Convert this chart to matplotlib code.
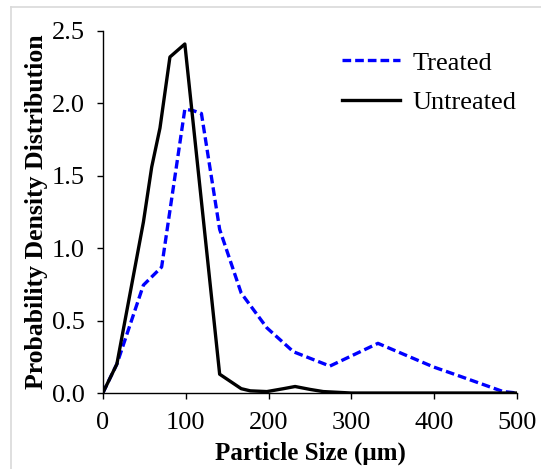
import matplotlib.pyplot as plt
from matplotlib.lines import Line2D

# particle size (um) and probability density values
treated_x = [0, 17, 49, 71, 99, 109, 119, 141, 167, 198, 230, 274, 332, 399, 427, 483, 500]
treated_y = [0, 0.2, 0.745, 0.87, 1.96, 1.95, 1.93, 1.13, 0.69, 0.45, 0.285, 0.186, 0.343, 0.18, 0.124, 0.01, 0]

untreated_x = [0, 17, 49, 59, 69, 81, 99, 141, 167, 178, 198, 218, 232, 250, 266, 300, 400, 500]
untreated_y = [0, 0.2, 1.18, 1.56, 1.83, 2.32, 2.41, 0.13, 0.03, 0.015, 0.01, 0.03, 0.045, 0.025, 0.01, 0, 0, 0]

x_ticks = [0, 100, 200, 300, 400, 500]
y_ticks = [0.0, 0.5, 1.0, 1.5, 2.0, 2.5]

plt.rcParams['font.family'] = ['Liberation Serif', 'DejaVu Serif']

fig = plt.figure(figsize=(5.41, 4.69), dpi=100)
ax = fig.add_axes([0.190, 0.162, 0.766, 0.772])

# light grey frame of the original picture
fig.add_artist(Line2D([11 / 541, 11 / 541], [0, 1 - 7 / 469], color='#d9d9d9', lw=1.2))
fig.add_artist(Line2D([11 / 541, 1], [1 - 7 / 469, 1 - 7 / 469], color='#d9d9d9', lw=1.2))

ax.plot(treated_x, treated_y, color='#0000ff', lw=2.4, ls=(0, (2.6, 1.2)), label='Treated')
ax.plot(untreated_x, untreated_y, color='black', lw=2.4, label='Untreated')

ax.set_xlim(0, 500)
ax.set_ylim(0, 2.5)
ax.set_xticks(x_ticks)
ax.set_yticks(y_ticks)
ax.set_yticklabels(['%.1f' % v for v in y_ticks])
ax.tick_params(direction='out', length=4, width=1, labelsize=19)
ax.tick_params(axis='x', pad=10)
ax.tick_params(axis='y', pad=9)

for side in ['top', 'right']:
    ax.spines[side].set_visible(False)
for side in ['left', 'bottom']:
    ax.spines[side].set_linewidth(1)

ax.set_xlabel('Particle Size (\u00b5m)', fontsize=18, fontweight='bold', labelpad=5)
ax.set_ylabel('Probability Density Distribution', fontsize=18.5, fontweight='bold', labelpad=3)

ax.legend(loc='upper right', bbox_to_anchor=(1.055, 1.01), frameon=False, fontsize=19,
          handlelength=2.2, handletextpad=0.45, labelspacing=0.62)

fig.savefig('out.png', dpi=100)
